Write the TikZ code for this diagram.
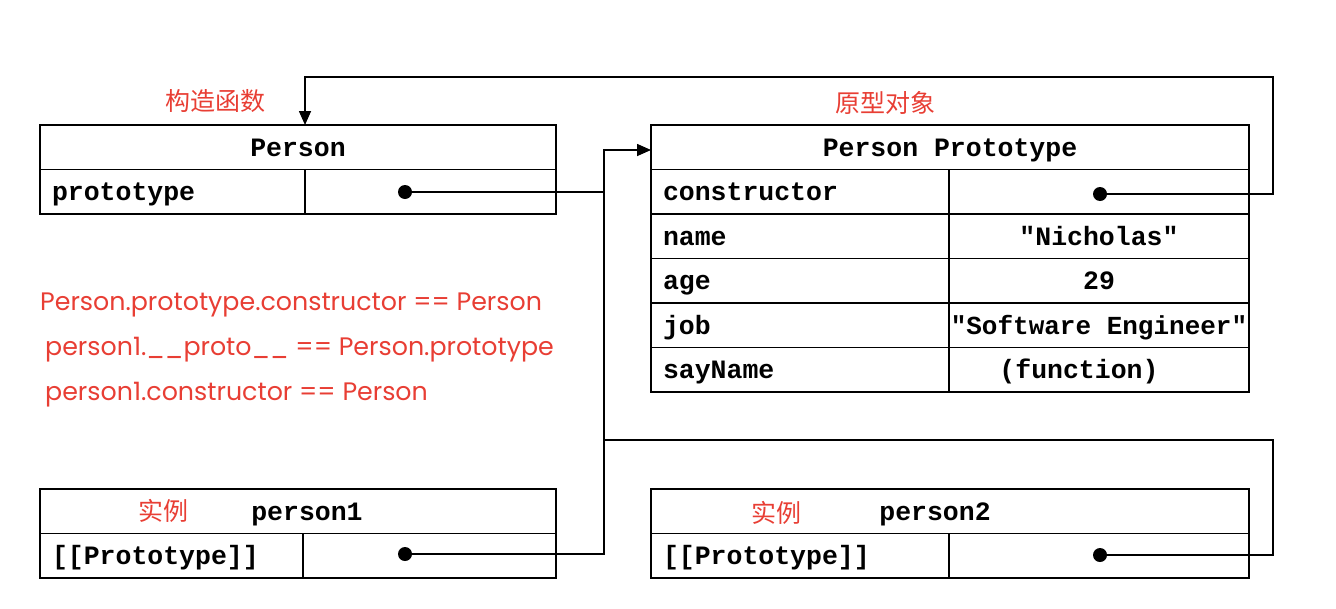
\documentclass[tikz,border=0pt]{standalone}
\usepackage{fontspec}
\usepackage{xcolor}
\usetikzlibrary{arrows.meta,positioning,calc}
\newfontfamily\codefont{Liberation Mono}
\newfontfamily\notefont{Poppins}
\newfontfamily\cjk{Noto Sans CJK SC}
\definecolor{notered}{RGB}{232,62,52}
\tikzset{
  cell/.style={draw,line width=1.6pt,outer sep=0pt,inner ysep=0pt,minimum height=44.5pt,
    text height=22pt,text depth=4pt,
    font=\codefont\bfseries\fontsize{26.5}{30}\selectfont},
  keycell/.style={cell,inner xsep=12pt,text width=#1,align=left},
  valcell/.style={cell,inner xsep=0pt,minimum width=#1},
  headcell/.style={cell,inner xsep=0pt,minimum width=#1},
  dot/.style={circle,fill=black,inner sep=0pt,minimum size=14pt},
  link/.style={line width=1.6pt},
  pointer/.style={link,-{Triangle[length=14pt,width=12pt]}},
  notetext/.style={text=notered,font=\notefont\fontsize{25.3}{30}\selectfont,anchor=west,inner sep=0pt},
  cnlabel/.style={text=notered,font=\cjk\fontsize{25}{28}\selectfont,inner sep=0pt},
}

\begin{document}
\begin{tikzpicture}[x=1pt,y=-1pt]
  \useasboundingbox (0,0) rectangle (1336,608);
  % constructor Person
  \node[headcell=516pt] (person) at (298,147.25) {Person};
  \node[keycell=241pt] (personkey) at (172.5,191.75) {prototype};
  \node[valcell=251pt] (personval) at (430.5,191.75) {};
  \node[dot] (protodot) at (405,192) {};
  \node[cnlabel] (ctorlabel) at (215,101) {构造函数};
  % prototype object
  \node[headcell=598pt] (protohead) at (950,147.25) {Person Prototype};
  \node[keycell=274pt] (ctorkey) at (800,191.75) {constructor};
  \node[valcell=300pt] (ctorval) at (1099,191.75) {};
  \node[keycell=274pt] (namekey) at (800,236.25) {name};
  \node[valcell=300pt] (nameval) at (1099,236.25) {"Nicholas"};
  \node[keycell=274pt] (agekey) at (800,280.75) {age};
  \node[valcell=300pt] (ageval) at (1099,280.75) {29};
  \node[keycell=274pt] (jobkey) at (800,325.25) {job};
  \node[valcell=300pt,font=\codefont\bfseries\fontsize{26}{30}\selectfont] (jobval) at (1099,325.25) {"Software Engineer"};
  \node[keycell=274pt] (saykey) at (800,369.75) {sayName};
  \node[valcell=300pt] (sayval) at (1099,369.75) {\hspace*{-40pt}(function)};
  \node[dot] (ctordot) at (1100,194) {};
  \node[cnlabel] (protolabel) at (885,103) {原型对象};
  % notes
  \node[notetext] (note1) at (40,305) {Person.prototype.constructor == Person};
  \node[notetext] (note2) at (45,350) {person1.\_\_proto\_\_ == Person.prototype};
  \node[notetext] (note3) at (45,395) {person1.constructor == Person};
  % instances
  \node[headcell=516pt] (p1head) at (298,511.25) {\hspace*{18pt}person1};
  \node[keycell=239pt] (p1key) at (171.5,555.75) {[[Prototype]]};
  \node[valcell=253pt] (p1val) at (429.5,555.75) {};
  \node[dot] (p1dot) at (405,554) {};
  \node[cnlabel] (p1label) at (163,511) {实例};
  \node[headcell=598pt] (p2head) at (950,511.25) {person2\hspace*{30pt}};
  \node[keycell=274pt] (p2key) at (800,555.75) {[[Prototype]]};
  \node[valcell=300pt] (p2val) at (1099,555.75) {};
  \node[dot] (p2dot) at (1100,555) {};
  \node[cnlabel] (p2label) at (776,513) {实例};
  % connectors
  \coordinate (bus) at (604,150);
  \coordinate (loopR) at (1273,77);
  \coordinate (p2bend) at (1273,440);
  \draw[pointer] (ctordot) -| (loopR) -| (personkey.east |- person.north);
  \draw[link] (protodot) -- (bus |- protodot);
  \draw[pointer] (p1dot) -| (bus) -- (protohead.west |- bus);
  \draw[link] (p2dot) -| (p2bend) -- (bus |- p2bend);
\end{tikzpicture}
\end{document}
